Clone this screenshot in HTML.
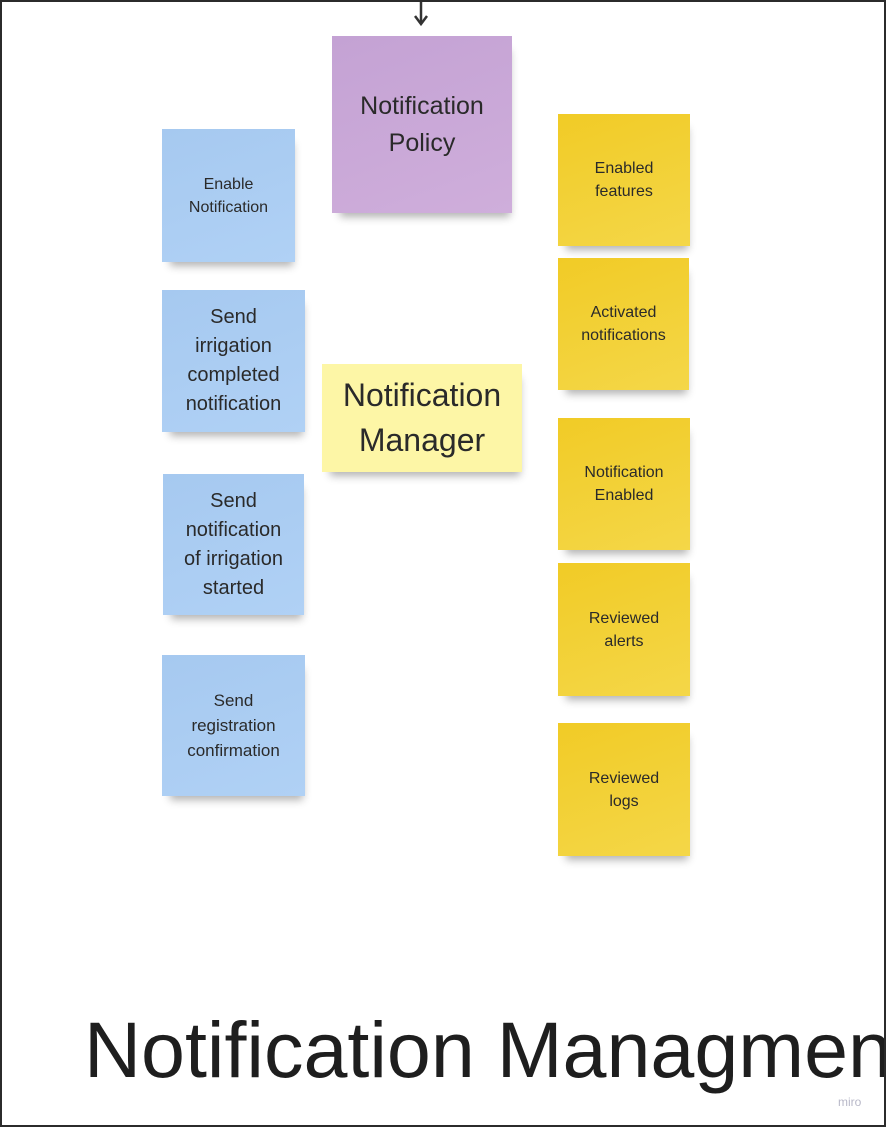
<!DOCTYPE html>
<html><head><meta charset="utf-8"><style>
html,body{margin:0;padding:0;}
body{width:886px;height:1127px;position:relative;overflow:hidden;background:#fff;font-family:"Liberation Sans",sans-serif;color:#2a2a2a;}
.frame{position:absolute;left:0;top:0;width:882px;height:1123px;border:2px solid #2b2b2b;z-index:5;}
.n{position:absolute;display:flex;align-items:center;justify-content:center;text-align:center;box-shadow:3px 9px 8px -5px rgba(0,0,0,0.3);}
.b{background:linear-gradient(160deg,#a6c9f0,#b0d1f5);}
.y{background:linear-gradient(160deg,#f1cb26,#f4d748);font-size:16px;line-height:23px;}
.p{background:linear-gradient(160deg,#c4a2d4,#cfaedb);}
.t{position:absolute;left:84px;top:1004px;font-size:79px;white-space:nowrap;color:#1e1e1e;}
.miro{position:absolute;left:838px;top:1095px;font-size:12px;color:#b8b8c8;}
</style></head><body>
<div class="frame"></div>
<svg style="position:absolute;left:412px;top:0" width="20" height="28"><line x1="9" y1="0" x2="9" y2="24" stroke="#333" stroke-width="2.5"/><polyline points="3,16 9,24 15,16" fill="none" stroke="#333" stroke-width="2.5"/></svg>
<div class="n p" style="left:332px;top:36px;width:180px;height:177px;font-size:25px;line-height:37px;">Notification<br>Policy</div>
<div class="n b" style="left:162px;top:129px;width:133px;height:133px;font-size:16px;line-height:23px;">Enable<br>Notification</div>
<div class="n b" style="left:162px;top:290px;width:143px;height:142px;font-size:20px;line-height:29px;">Send<br>irrigation<br>completed<br>notification</div>
<div class="n b" style="left:163px;top:474px;width:141px;height:141px;font-size:20px;line-height:29px;">Send<br>notification<br>of irrigation<br>started</div>
<div class="n b" style="left:162px;top:655px;width:143px;height:141px;font-size:17px;line-height:25px;">Send<br>registration<br>confirmation</div>
<div class="n" style="left:322px;top:364px;width:200px;height:108px;background:#fdf6a6;font-size:32px;line-height:45px;">Notification<br>Manager</div>
<div class="n y" style="left:558px;top:114px;width:132px;height:132px;">Enabled<br>features</div>
<div class="n y" style="left:558px;top:258px;width:131px;height:132px;">Activated<br>notifications</div>
<div class="n y" style="left:558px;top:418px;width:132px;height:132px;">Notification<br>Enabled</div>
<div class="n y" style="left:558px;top:563px;width:132px;height:133px;">Reviewed<br>alerts</div>
<div class="n y" style="left:558px;top:723px;width:132px;height:133px;">Reviewed<br>logs</div>
<div class="t">Notification Managment</div>
<div class="miro">miro</div>
</body></html>
